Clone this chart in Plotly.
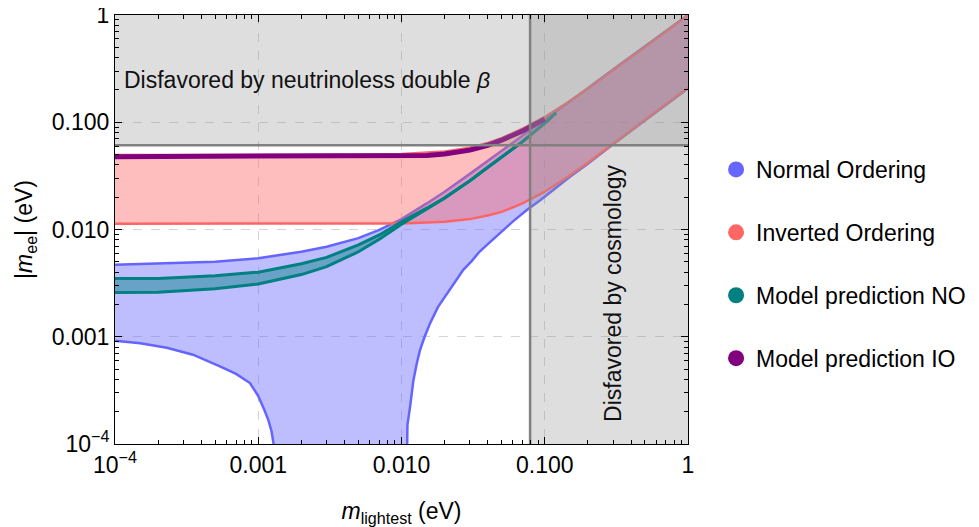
import plotly.graph_objects as go

# ---------------- data ----------------
# Normal ordering band: upper edge
no_up_x = [1e-4, 2e-4, 5e-4, 1e-3, 2e-3, 3e-3, 5e-3, 7e-3, 1e-2, 1.5e-2, 2e-2, 3e-2,
           4e-2, 5e-2, 7e-2, 0.1, 0.15, 0.2, 0.3, 0.5, 0.7, 1.0]
no_up_y = [0.0047, 0.0048, 0.0050, 0.0054, 0.0062, 0.0069, 0.0083, 0.0099, 0.0125, 0.0175,
           0.0225, 0.033, 0.0435, 0.054, 0.075, 0.106, 0.157, 0.208, 0.31, 0.51, 0.71, 1.0]
# Normal ordering band: lower edge, left branch (goes to zero)
no_lo1_x = [1e-4, 1.5e-4, 2.3e-4, 3.5e-4, 5.4e-4, 7e-4, 8.75e-4, 1.0e-3, 1.1e-3, 1.18e-3,
            1.24e-3, 1.28e-3, 1.31e-3, 1.33e-3]
no_lo1_y = [0.00092, 0.00087, 0.00079, 0.00068, 0.00053, 0.00045, 0.00037, 0.00028, 0.00021,
            0.000165, 0.00013, 0.0001, 0.00004, 1e-5]
# Normal ordering band: lower edge, right branch (rises from zero)
no_lo2_x = [1.07e-2, 1.087e-2, 1.1e-2, 1.148e-2, 1.18e-2, 1.21e-2, 1.28e-2, 1.346e-2, 1.45e-2,
            1.58e-2, 1.8e-2, 2.07e-2, 2.4e-2, 2.7e-2, 3.1e-2, 3.5e-2, 4e-2, 5e-2, 6e-2, 7.5e-2,
            9.35e-2, 0.12, 0.15, 0.2, 0.3, 0.5, 0.7, 1.0]
no_lo2_y = [1e-5, 1e-4, 0.00015, 0.000223, 0.0003, 0.00039, 0.00057, 0.00075, 0.001,
            0.00133, 0.0019, 0.0025, 0.0034, 0.0042, 0.0051, 0.0062, 0.0073, 0.0096, 0.0119,
            0.0152, 0.0188, 0.0245, 0.031, 0.041, 0.0625, 0.104, 0.145, 0.207]

# Inverted ordering band
io_x = [1e-4, 1e-3, 5e-3, 1e-2, 1.5e-2, 2e-2, 3e-2, 4e-2, 5e-2, 7e-2, 0.1, 0.15, 0.2,
        0.3, 0.5, 0.7, 1.0]
io_up = [0.0495, 0.0495, 0.0497, 0.0505, 0.052, 0.0535, 0.058, 0.064, 0.071, 0.087, 0.112,
         0.158, 0.206, 0.304, 0.503, 0.702, 1.0]
io_lo = [0.0113, 0.0113, 0.0113, 0.0114, 0.0116, 0.0118, 0.0125, 0.0135, 0.0146, 0.0175,
         0.0225, 0.032, 0.042, 0.063, 0.104, 0.146, 0.21]

# Model prediction NO band
mno_x = [1e-4, 2e-4, 5e-4, 1e-3, 2e-3, 3e-3, 5e-3, 7e-3, 1e-2, 1.5e-2, 2e-2, 3e-2, 4e-2,
         5e-2, 7e-2, 0.1, 0.12]
mno_up = [0.0035, 0.0035, 0.0037, 0.0040, 0.0048, 0.0055, 0.0072, 0.0089, 0.0118, 0.0158,
          0.0198, 0.0285, 0.038, 0.047, 0.066, 0.098, 0.122]
mno_lo = [0.00258, 0.0026, 0.0028, 0.0031, 0.0038, 0.0045, 0.0062, 0.0081, 0.0112, 0.0154,
          0.0196, 0.0284, 0.038, 0.047, 0.066, 0.098, 0.122]

# Model prediction IO curve
mio_x = [1e-4, 1e-3, 1e-2, 1.5e-2, 2e-2, 3e-2, 4e-2, 5e-2, 7e-2, 0.1]
mio_y = [0.0478, 0.0478, 0.0482, 0.049, 0.0505, 0.055, 0.061, 0.068, 0.083, 0.107]

# Excluded regions
cosmo_limit = 0.079      # m_lightest bound (eV)
dbd_limit = 0.061        # |m_ee| bound (eV)
axis_min, axis_max = 1e-4, 1.0

tick_vals = [1e-4, 1e-3, 1e-2, 1e-1, 1.0]
tick_text = ["10<sup>\u22124</sup>", "0.001", "0.010", "0.100", "1"]
minor_vals = [m * 10.0 ** e for e in range(-4, 0) for m in range(2, 10)]

legend_names = ["Normal Ordering", "Inverted Ordering", "Model prediction NO", "Model prediction IO"]
legend_colors = ["#6666ff", "#ff6666", "#008080", "#800080"]

# ---------------- figure ----------------
BLUE = "rgb(100,100,255)"
RED = "rgb(255,100,100)"
TEAL = "rgb(0,128,128)"
PURPLE = "rgb(128,0,128)"
FONT = "Liberation Sans, Arial, Helvetica, sans-serif"
FS = 23

fig = go.Figure()

# NO band
poly_x = no_up_x + no_lo2_x[::-1] + no_lo1_x[::-1]
poly_y = no_up_y + no_lo2_y[::-1] + no_lo1_y[::-1]
fig.add_trace(go.Scatter(x=poly_x, y=poly_y, fill="toself", fillcolor="rgba(100,100,255,0.42)",
                         mode="lines", line=dict(width=0), showlegend=False, hoverinfo="skip"))
for xs, ys in [(no_up_x, no_up_y), (no_lo1_x, no_lo1_y), (no_lo2_x, no_lo2_y)]:
    fig.add_trace(go.Scatter(x=xs, y=ys, mode="lines", line=dict(color=BLUE, width=2.5),
                             showlegend=False, hoverinfo="skip"))

# IO band
fig.add_trace(go.Scatter(x=io_x + io_x[::-1], y=io_up + io_lo[::-1], fill="toself",
                         fillcolor="rgba(255,100,100,0.42)", mode="lines", line=dict(width=0),
                         showlegend=False, hoverinfo="skip"))
for ys in [io_up, io_lo]:
    fig.add_trace(go.Scatter(x=io_x, y=ys, mode="lines", line=dict(color=RED, width=2.5),
                             showlegend=False, hoverinfo="skip"))

# Model NO band
fig.add_trace(go.Scatter(x=mno_x + mno_x[::-1], y=mno_up + mno_lo[::-1], fill="toself",
                         fillcolor="rgba(0,128,128,0.45)", mode="lines", line=dict(width=0),
                         showlegend=False, hoverinfo="skip"))
for ys in [mno_up, mno_lo]:
    fig.add_trace(go.Scatter(x=mno_x, y=ys, mode="lines", line=dict(color=TEAL, width=3),
                             showlegend=False, hoverinfo="skip"))

# Model IO curve
fig.add_trace(go.Scatter(x=mio_x, y=mio_y, mode="lines", line=dict(color=PURPLE, width=5),
                         showlegend=False, hoverinfo="skip"))

# Excluded regions (drawn on top, translucent)
GRAY_FILL = "rgba(150,150,150,0.31)"
fig.add_trace(go.Scatter(x=[axis_min, axis_max, axis_max, axis_min, axis_min],
                         y=[dbd_limit, dbd_limit, axis_max, axis_max, dbd_limit],
                         fill="toself", fillcolor=GRAY_FILL, mode="lines", line=dict(width=0),
                         showlegend=False, hoverinfo="skip"))
fig.add_trace(go.Scatter(x=[cosmo_limit, axis_max, axis_max, cosmo_limit, cosmo_limit],
                         y=[axis_min, axis_min, axis_max, axis_max, axis_min],
                         fill="toself", fillcolor=GRAY_FILL, mode="lines", line=dict(width=0),
                         showlegend=False, hoverinfo="skip"))
fig.add_trace(go.Scatter(x=[axis_min, axis_max], y=[dbd_limit, dbd_limit], mode="lines",
                         line=dict(color="rgb(128,128,128)", width=2.5), showlegend=False,
                         hoverinfo="skip"))
fig.add_trace(go.Scatter(x=[cosmo_limit, cosmo_limit], y=[axis_min, axis_max], mode="lines",
                         line=dict(color="rgb(128,128,128)", width=2.5), showlegend=False,
                         hoverinfo="skip"))

# Legend entries
for i, (name, col) in enumerate(zip(legend_names, legend_colors)):
    fig.add_trace(go.Scatter(x=[None], y=[None], mode="markers", name=name,
                             legendgroup=f"g{i}",
                             marker=dict(color=col, size=18, symbol="circle")))

axis_common = dict(
    type="log", range=[-4, 0], showline=True, linecolor="black", linewidth=1,
    mirror="allticks", ticks="inside", ticklen=7, tickwidth=1, tickcolor="black",
    tickvals=tick_vals, ticktext=tick_text, showgrid=True, gridcolor="rgb(212,212,212)",
    griddash="dash", gridwidth=1, zeroline=False, automargin=False,
    ticklabeloverflow="allow",
    minor=dict(tickvals=minor_vals, ticks="inside", ticklen=4, tickcolor="black",
               tickwidth=1, showgrid=False),
    tickfont=dict(family=FONT, size=FS, color="black"),
)

# the page adds an 8px body margin, so the figure is sized/offset to compensate
fig.update_layout(
    width=971, height=519,
    margin=dict(l=107, r=291, t=7, b=83),
    plot_bgcolor="white", paper_bgcolor="white",
    font=dict(family=FONT, size=FS, color="black"),
    xaxis=dict(axis_common, title=dict(text="<i>m</i><sub>lightest</sub> (eV)",
                                       font=dict(family=FONT, size=FS), standoff=26)),
    yaxis=dict(axis_common, title=dict(text="|<i>m</i><sub>ee</sub>| (eV)",
                                       font=dict(family=FONT, size=FS), standoff=12)),
    legend=dict(x=1.049, y=0.69, xanchor="left", yanchor="top", tracegroupgap=30,
                font=dict(family=FONT, size=FS, color="black"), bgcolor="rgba(0,0,0,0)"),
    annotations=[
        dict(text="Disfavored by neutrinoless double <i>\u03b2</i>", xref="paper", yref="paper",
             x=0.012, y=0.848, xanchor="left", yanchor="middle", showarrow=False,
             font=dict(family=FONT, size=FS, color="#111111")),
        dict(text="Disfavored by cosmology", xref="paper", yref="paper", x=0.869, y=0.352,
             xanchor="center", yanchor="middle", textangle=-90, showarrow=False,
             font=dict(family=FONT, size=FS, color="#111111")),
    ],
)

fig.write_html("out.html", config={"displayModeBar": False})
